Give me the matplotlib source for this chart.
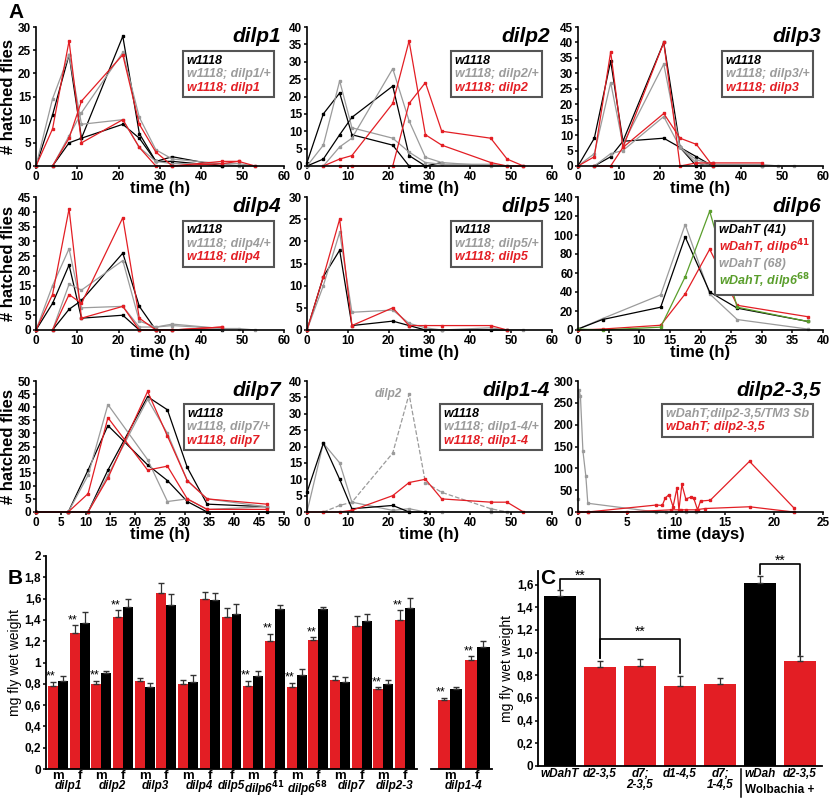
import matplotlib
matplotlib.use("Agg")
import matplotlib.pyplot as plt
import numpy as np
from matplotlib.lines import Line2D

plt.rcParams['font.family'] = ['Liberation Sans', 'DejaVu Sans']
plt.rcParams['font.weight'] = 'bold'
plt.rcParams['axes.labelweight'] = 'bold'
plt.rcParams['mathtext.default'] = 'it'

RED = '#e31e24'; BLK = '#000000'; GRY = '#9b9b9b'; GRN = '#5a9e2c'

# ---------------- Panel A data: (color, x, y) ----------------
t_h = [0, 4, 8, 11, 21, 25, 29, 33, 45, 49, 53]
dilp1_series = [
    ('k', [0, 4, 8, 11, 21, 25, 29, 33, 45], [0, 11, 24, 6, 28, 7, 1, 2, 0]),
    ('k', [4, 8, 11, 21, 25, 29, 33, 45], [0, 5, 6, 9, 6, 1, 1, 0]),
    ('g', t_h, [0, 14.5, 24, 9, 10, 4, 1, 0.5, 0.5, 0.5, 0]),
    ('g', t_h[1:], [0, 6.5, 11.5, 24.5, 10.5, 3.5, 1.5, 0.5, 0, 0]),
    ('r', [0, 4, 8, 11, 21, 25, 29, 33, 45, 49], [0, 8, 27, 5, 10, 4, 0, 0, 1, 1]),
    ('r', t_h[1:], [0, 6, 14, 24, 9, 3, 0, 0.5, 1, 0]),
]
dilp2_series = [
    ('k', [0, 4, 8, 11, 21, 25, 29], [1, 15, 21, 9, 6, 0, 0]),
    ('k', [0, 4, 8, 11, 21, 25, 29, 33], [0, 2, 9, 14, 23, 3, 0, 1]),
    ('g', t_h, [0, 6, 24.5, 11, 8, 4, 1, 0.5, 0.5, 0, 0]),
    ('g', [4, 8, 11, 21, 25, 29, 33, 45, 49], [0, 5.5, 8, 28, 13, 2.5, 1, 0, 0]),
    ('r', [4, 8, 11, 21, 25, 29, 33, 45, 49, 53], [0, 2, 3, 18, 36, 9, 6, 1, 0, 0]),
    ('r', [8, 11, 21, 25, 29, 33, 45, 49, 53], [0, 0, 0, 18, 24, 10, 8, 2, 0]),
]
dilp3_series = [
    ('k', [0, 4, 8, 11, 21, 25, 29, 33], [0, 9, 34, 8, 40, 6, 0, 1]),
    ('k', [4, 8, 11, 21, 25, 29, 33, 45], [0, 3, 8, 9, 6, 3, 0, 0]),
    ('g', t_h, [0, 4, 27, 7, 33, 6, 2, 0.5, 0.5, 0, 0]),
    ('g', [4, 8, 11, 21, 25, 29, 33, 45], [0, 4, 5, 16, 6, 1, 0, 0]),
    ('r', [0, 4, 8, 11, 21, 25, 29, 33, 45], [0, 3, 37, 6, 40, 0, 1, 1, 1]),
    ('r', [4, 8, 11, 21, 25, 29, 33], [0, 0, 6, 17, 9, 7, 0]),
]
dilp4_series = [
    ('k', [0, 4, 8, 11, 21, 25, 29, 33, 45], [0, 9, 22, 4, 5, 0, 0, 0, 0]),
    ('k', [4, 8, 11, 21, 25, 29], [0, 7, 10, 26, 8, 0]),
    ('g', t_h, [0, 15, 27.5, 7.5, 8, 1, 1, 1.5, 0.5, 0.5, 0]),
    ('g', [4, 8, 11, 21, 25, 29, 33, 45], [0, 15.5, 13.5, 23.5, 3, 1, 2, 0.5]),
    ('r', [0, 4, 8, 11, 21, 25, 29, 33, 45], [0, 12, 41, 4, 8, 0, 0, 0, 1]),
    ('r', [4, 8, 11, 21, 25, 29, 33, 45], [0, 12, 9, 38, 4, 0, 0, 1]),
]
dilp5_series = [
    ('k', [0, 4, 8, 11, 21, 25, 29, 33, 45, 49], [0, 12, 18, 1, 2, 1, 0, 0, 0, 0]),
    ('g', t_h, [0, 10, 22, 4, 4.5, 1.5, 0.5, 0, 0.5, 0, 0]),
    ('r', [0, 4, 8, 11, 21, 25, 29, 33, 45, 49], [0, 12, 25, 1, 5, 1, 1, 1, 1, 0]),
]
t6 = [0, 4, 13.5, 17.5, 21.5, 26, 37.5]
dilp6_series = [
    ('g', t6, [1, 12, 37, 111, 38, 11, 1]),
    ('k', t6, [1, 11, 24, 98, 40, 23, 9]),
    ('r', t6, [0, 1, 5, 38, 85, 26, 14]),
    ('G', t6, [1, 0, 3, 56, 125, 24, 9]),
]
t7 = [0, 6.5, 10.5, 14.5, 22.5, 26.5, 30.5, 34.5, 46.5]
dilp7_series = [
    ('k', t7, [0, 0, 0, 16, 44, 39, 17, 3, 2]),
    ('k', t7, [0, 0, 16, 33, 18, 12, 4, 0, 0]),
    ('g', t7, [0, 0, 14, 41, 20, 4, 5, 1, 2]),
    ('g', t7, [0, 0, 0, 14, 43, 30, 12, 5, 2]),
    ('r', t7, [0, 0, 0, 13, 46, 29, 12, 5, 3]),
    ('r', t7, [0, 0, 7, 36, 16, 17.5, 5, 1, 1]),
]
dilp14_series = [
    ('d', [4, 8, 11, 21, 25, 29, 33, 45, 49], [0, 2, 3, 18, 36, 9, 6, 1, 0]),
    ('g', [0, 4, 8, 11, 21, 25, 29, 33, 45], [0, 21, 15, 3, 0.5, 1, 0, 0, 0]),
    ('k', [0, 4, 8, 11, 21, 25, 29], [6, 21, 10, 1, 2, 0, 0]),
    ('r', t_h, [0, 0, 0, 0.5, 5, 9, 10, 4, 3, 3, 0]),
]
dilp235_series = [
    ('g', [0, 0.1, 0.25, 0.5, 0.8, 1, 8, 9, 10, 11, 12, 22], [30, 280, 265, 140, 82, 20, 0, 0, 0, 0, 0, 0]),
    ('r', [0, 1, 5, 9.5, 10.5, 11, 12, 13, 17.5, 22], [0, 0, 0, 5, 5, 5, 5, 8, 12, 0]),
    ('r', [0, 1, 8, 8.6, 8.9, 9.3, 9.7, 10.1, 10.3, 10.6, 11, 11.5, 11.8, 12.2, 12.5, 13.5, 17.5, 22],
     [0, 0, 16, 15, 32, 40, 12, 55, 5, 63, 30, 34, 32, 5, 25, 27, 116, 10]),
]

leg_std = lambda n: [('w1118', BLK), ('w1118; %s/+' % n, GRY), ('w1118; %s' % n, RED)]

panels = [
    ('dilp1', dilp1_series, 60, 10, 30, 5, leg_std('dilp1'), 'time (h)', 0, 0),
    ('dilp2', dilp2_series, 60, 10, 40, 5, leg_std('dilp2'), 'time (h)', 0, 1),
    ('dilp3', dilp3_series, 60, 10, 45, 5, leg_std('dilp3'), 'time (h)', 0, 2),
    ('dilp4', dilp4_series, 60, 10, 45, 5, leg_std('dilp4'), 'time (h)', 1, 0),
    ('dilp5', dilp5_series, 60, 10, 30, 5, leg_std('dilp5'), 'time (h)', 1, 1),
    ('dilp6', dilp6_series, 40, 5, 140, 20,
     [('wDahT (41)', BLK), ('wDahT, dilp6$^{41}$', RED), ('wDahT (68)', GRY), ('wDahT, dilp6$^{68}$', GRN)],
     'time (h)', 1, 2),
    ('dilp7', dilp7_series, 50, 5, 50, 5,
     [('w1118', BLK), ('w1118, dilp7/+', GRY), ('w1118, dilp7', RED)], 'time (h)', 2, 0),
    ('dilp1-4', dilp14_series, 60, 10, 40, 5, leg_std('dilp1-4'), 'time (h)', 2, 1),
    ('dilp2-3,5', dilp235_series, 25, 5, 300, 50,
     [('wDahT;dilp2-3,5/TM3 Sb', GRY), ('wDahT; dilp2-3,5', RED)], 'time (days)', 2, 2),
]

# ---------------- Panel B data ----------------
b_groups = ['dilp1', 'dilp2', 'dilp3', 'dilp4', 'dilp5', 'dilp6$^{41}$', 'dilp6$^{68}$', 'dilp7', 'dilp2-3']
b_sex = ['m', 'f', 'm', 'f', 'm', 'f', 'm', 'f', 'f', 'm', 'f', 'm', 'f', 'm', 'f', 'm', 'f']
b_group_of = [0, 0, 1, 1, 2, 2, 3, 3, 4, 5, 5, 6, 6, 7, 7, 8, 8]
b_red = [0.78, 1.28, 0.80, 1.43, 0.83, 1.65, 0.80, 1.60, 1.43, 0.78, 1.20, 0.77, 1.21, 0.84, 1.34, 0.75, 1.40]
b_red_err = [0.04, 0.07, 0.03, 0.06, 0.02, 0.10, 0.04, 0.06, 0.08, 0.05, 0.07, 0.04, 0.03, 0.03, 0.10, 0.02, 0.09]
b_blk = [0.83, 1.37, 0.90, 1.52, 0.77, 1.54, 0.82, 1.59, 1.46, 0.87, 1.50, 0.88, 1.50, 0.82, 1.39, 0.80, 1.51]
b_blk_err = [0.04, 0.10, 0.02, 0.08, 0.04, 0.10, 0.06, 0.06, 0.09, 0.05, 0.04, 0.06, 0.02, 0.04, 0.07, 0.04, 0.10]
b_star = [1, 1, 1, 1, 0, 0, 0, 0, 0, 1, 1, 1, 1, 0, 0, 1, 1]
b2_sex = ['m', 'f']
b2_red = [0.65, 1.02]
b2_red_err = [0.02, 0.04]
b2_blk = [0.75, 1.15]
b2_blk_err = [0.02, 0.05]

# ---------------- Panel C data ----------------
c_labels = ['wDahT', 'd2-3,5', 'd7;\n2-3,5', 'd1-4,5', 'd7;\n1-4,5', 'wDah', 'd2-3,5']
c_vals = [1.50, 0.87, 0.88, 0.71, 0.72, 1.61, 0.93]
c_err = [0.05, 0.06, 0.06, 0.08, 0.06, 0.07, 0.04]
c_colors = [BLK, RED, RED, RED, RED, BLK, RED]

W, H = 832, 800
fig = plt.figure(figsize=(W / 100, H / 100), dpi=100)


def axpx(l, r, t, b):
    return fig.add_axes([l / W, 1 - b / H, (r - l) / W, (b - t) / H])


cmap = {'k': BLK, 'g': GRY, 'r': RED, 'G': GRN, 'd': GRY}
cols = [(36, 284), (307, 552), (578, 823)]
rows = [(27, 166), (197, 330), (381, 512)]

for title, series, xmax, xst, ymax, yst, leg, xl, r, c in panels:
    ax = axpx(cols[c][0], cols[c][1], rows[r][0], rows[r][1])
    for key, x, y in series:
        ls = '--' if key == 'd' else '-'
        ax.plot(x, y, ls, color=cmap[key], lw=0.9, marker='s', ms=2.0, clip_on=False)
    if title == 'dilp1-4':
        ax.text(20, 36, 'dilp2', color=GRY, fontsize=8.5, fontstyle='italic', ha='center', va='center')
    ax.set_xlim(0, xmax)
    ax.set_ylim(0, ymax)
    ax.set_xticks(np.arange(0, xmax + 0.1, xst))
    ax.set_yticks(np.arange(0, ymax + 0.1, yst))
    for s in ['top', 'right']:
        ax.spines[s].set_visible(False)
    for s in ['left', 'bottom']:
        ax.spines[s].set_linewidth(1.2)
    ax.tick_params(labelsize=8.5, length=2.5, width=1.1, pad=1)
    for lab in ax.get_xticklabels() + ax.get_yticklabels():
        lab.set_fontweight('bold')
    ax.set_xlabel(xl, fontsize=12, labelpad=-1)
    if c == 0:
        ax.set_ylabel('# hatched flies', fontsize=12, labelpad=1)
    ax.text(0.99, 1.0, title, transform=ax.transAxes, ha='right', va='top',
            fontsize=15, fontstyle='italic', fontweight='bold')
    handles = [Line2D([], [], lw=0) for _ in leg]
    lg = ax.legend(handles, [t for t, _ in leg], loc='upper right', bbox_to_anchor=(0.985, 0.87),
                   handlelength=0, handletextpad=0, labelcolor=[col for _, col in leg],
                   prop={'weight': 'bold', 'style': 'italic', 'size': 9},
                   fancybox=False, edgecolor='#555555', borderpad=0.3, labelspacing=0.1,
                   framealpha=1)
    lg.get_frame().set_linewidth(1.5)

fig.text(8 / W, 1 - 13 / H, 'A', fontsize=15, fontweight='bold', va='center')
fig.text(8 / W, 1 - 578 / H, 'B', fontsize=15, fontweight='bold', va='center')
fig.text(540 / W, 1 - 578 / H, 'C', fontsize=15, fontweight='bold', va='center')


def fmt_comma(v):
    if abs(v - round(v)) < 1e-6:
        return '%d' % round(v)
    return ('%.1f' % v).replace('.', ',')


def style_bar_ax(ax):
    for s in ['top', 'right']:
        ax.spines[s].set_visible(False)
    for s in ['left', 'bottom']:
        ax.spines[s].set_linewidth(1.3)
    ax.tick_params(labelsize=8.5, length=2.5, width=1.1, pad=1)


bw = 0.46
ekw = dict(ecolor='#333333', lw=0.9)
# ---- B main
axb = axpx(46, 417, 556, 769)
pos = np.arange(len(b_sex))
for i in range(len(pos)):
    axb.bar(pos[i] - bw / 2, b_red[i], bw, color=RED, yerr=[[0], [b_red_err[i]]], capsize=2.2, error_kw=ekw)
    axb.bar(pos[i] + bw / 2, b_blk[i], bw, color=BLK, yerr=[[0], [b_blk_err[i]]], capsize=2.2, error_kw=ekw)
    if b_star[i]:
        axb.text(pos[i] - bw / 2 - 0.1, b_red[i] + b_red_err[i] - 0.01, '**', ha='center',
                 va='bottom', fontsize=9, fontweight='normal')
axb.set_xlim(-0.55, len(pos) - 0.45)
axb.set_ylim(0, 2)
yt = np.arange(0, 2.01, 0.2)
axb.set_yticks(yt)
axb.set_yticklabels([fmt_comma(v) for v in yt])
axb.set_xticks(pos)
style_bar_ax(axb)
axb.set_xticklabels(b_sex, fontsize=9.5)
axb.tick_params(axis='x', length=0, pad=1)
axb.set_ylabel('mg fly wet weight', fontsize=10, fontweight='normal', labelpad=2)
for g, name in enumerate(b_groups):
    members = [p for p, gg in zip(pos, b_group_of) if gg == g]
    axb.text(np.mean(members), -0.1, name, ha='center', va='top', fontsize=8.5,
             fontstyle='italic', fontweight='bold', clip_on=False)

# ---- B dilp1-4
axb2 = axpx(431, 492, 556, 769)
pos2 = np.arange(len(b2_sex))
for i in range(len(pos2)):
    axb2.bar(pos2[i] - bw / 2, b2_red[i], bw, color=RED, yerr=[[0], [b2_red_err[i]]], capsize=2.2, error_kw=ekw)
    axb2.bar(pos2[i] + bw / 2, b2_blk[i], bw, color=BLK, yerr=[[0], [b2_blk_err[i]]], capsize=2.2, error_kw=ekw)
    axb2.text(pos2[i] - bw / 2 - 0.1, b2_red[i] + b2_red_err[i] - 0.01, '**', ha='center',
              va='bottom', fontsize=9, fontweight='normal')
axb2.set_xlim(-0.7, 1.55)
axb2.set_ylim(0, 2)
axb2.set_yticks([])
axb2.set_xticks(pos2)
style_bar_ax(axb2)
axb2.set_xticklabels(b2_sex, fontsize=9.5)
axb2.tick_params(axis='x', length=0, pad=1)
axb2.spines['left'].set_visible(False)
axb2.text(0.5, -0.1, 'dilp1-4', ha='center', va='top', fontsize=8.5, fontstyle='italic',
          fontweight='bold', clip_on=False)

# ---- C
axc = axpx(538, 822, 571, 766)
cpos = np.arange(len(c_vals))
axc.bar(cpos, c_vals, 0.82, color=c_colors, yerr=[np.zeros(len(c_err)), c_err], capsize=2.5, error_kw=ekw)
axc.set_xlim(-0.55, len(c_vals) - 0.45)
axc.set_ylim(0, 1.72)
ytc = np.arange(0, 1.61, 0.2)
axc.set_yticks(ytc)
axc.set_yticklabels(['0'] + [('%.1f' % v).replace('.', ',') for v in ytc[1:]])
axc.set_xticks(cpos)
style_bar_ax(axc)
axc.set_xticklabels(c_labels, fontsize=8.5, fontstyle='italic', linespacing=0.85)
axc.tick_params(axis='x', length=0, pad=1.5)
axc.set_ylabel('mg fly wet weight', fontsize=10, fontweight='normal', labelpad=2)
axc.text(5.5, -0.16, 'Wolbachia +', ha='center', va='top', fontsize=8.5, fontweight='bold')
axc.plot([4.52, 4.52], [-0.03, -0.27], color='k', lw=1.1, clip_on=False)


def bracket(x1, y1, x2, y2, top, ylab):
    axc.plot([x1, x1, x2, x2], [y1, top, top, y2], color='k', lw=1.2, clip_on=False)
    axc.text((x1 + x2) / 2, ylab, '**', ha='center', va='bottom', fontsize=10, fontweight='normal',
             clip_on=False)


bracket(0, 1.56, 1, 0.95, 1.65, 1.62)
bracket(1, 0.95, 3, 0.82, 1.12, 1.12)
bracket(5, 1.69, 6, 0.98, 1.78, 1.75)

fig.savefig('out.png', dpi=100)
